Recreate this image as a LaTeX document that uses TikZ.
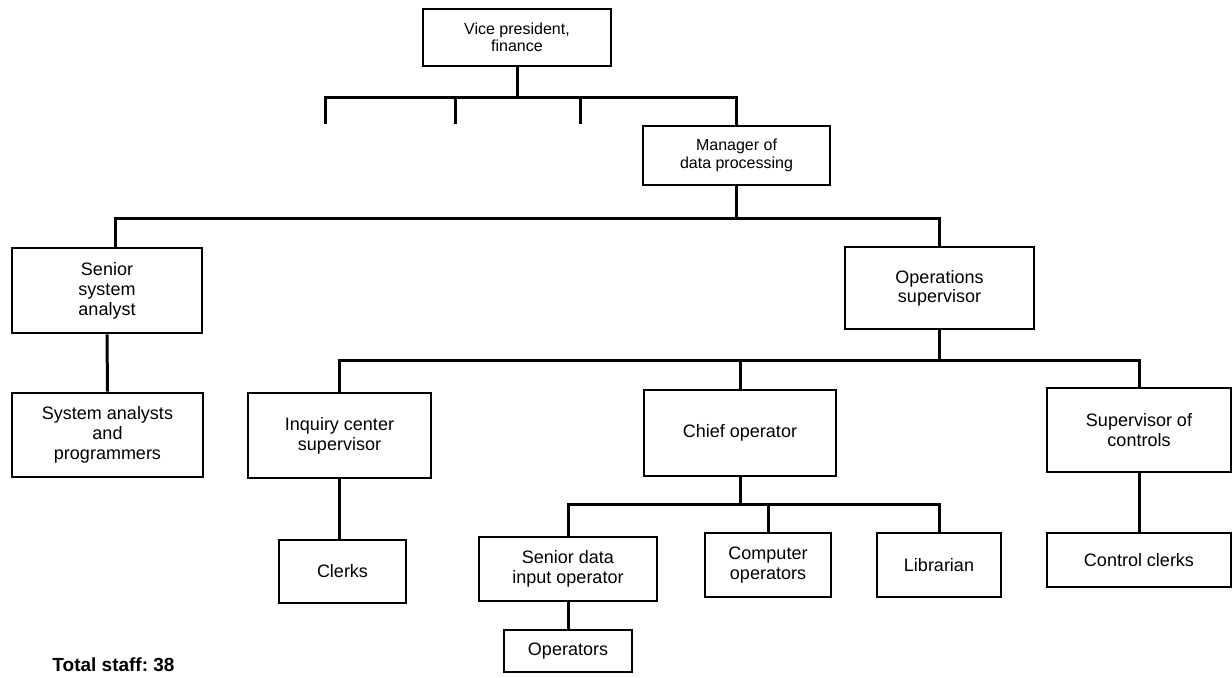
\documentclass[tikz,border=0pt]{standalone}
\usepackage{fontspec}
\setmainfont{Liberation Sans}
\begin{document}
\begin{tikzpicture}[x=0.5pt,y=-0.5pt,
  box/.style={draw, line width=1.3pt, rectangle, inner sep=0pt, align=center,
    font=\fontsize{9}{10}\selectfont},
  link/.style={line width=1.5pt}]
\useasboundingbox (0,0) rectangle (1232,677);

% Positions and sizes of the boxes
\node[box, minimum width=94pt, minimum height=28.5pt, font=\fontsize{8}{8.5}\selectfont]
  (vp) at (517,37.5) {Vice president,\\finance};
\node[box, minimum width=93.5pt, minimum height=29.5pt, font=\fontsize{8}{9}\selectfont]
  (mgr) at (736.5,155.5) {Manager of\\data processing};
\node[box, minimum width=95pt, minimum height=42.5pt]
  (ssa) at (107,290.5) {Senior\\system\\analyst};
\node[box, minimum width=95.5pt, minimum height=42pt]
  (sap) at (107.5,435) {System analysts\\and\\programmers};
\node[box, minimum width=94.5pt, minimum height=41pt, font=\fontsize{9}{8}\selectfont]
  (ops) at (939.5,288) {Operations\\supervisor};
\node[box, minimum width=91.5pt, minimum height=42.5pt]
  (inq) at (339.5,435.5) {Inquiry center\\supervisor};
\node[box, minimum width=96pt, minimum height=43pt]
  (chief) at (740,433) {Chief operator};
\node[box, minimum width=92pt, minimum height=42pt]
  (soc) at (1139,430) {Supervisor of\\controls};
\node[box, minimum width=63.5pt, minimum height=31.5pt]
  (clerks) at (342.5,571.5) {Clerks};
\node[box, minimum width=89pt, minimum height=32pt]
  (sdi) at (568,569) {Senior data\\input operator};
\node[box, minimum width=63pt, minimum height=32pt]
  (cop) at (768,565) {Computer\\operators};
\node[box, minimum width=62pt, minimum height=32pt]
  (lib) at (939,565) {Librarian};
\node[box, minimum width=64pt, minimum height=21pt]
  (opr) at (568,651) {Operators};
\node[box, minimum width=92pt, minimum height=27pt]
  (cc) at (1139,560) {Control clerks};

\node[font=\bfseries\fontsize{9.5}{10}\selectfont, inner sep=0pt]
  (total) at (113.5,665) {Total staff:\ 38};

% Junction levels of the tree
\coordinate (j1) at (518,97);
\coordinate (j2) at (738,218);
\coordinate (j3) at (940,360);
\coordinate (j4) at (740,504);
% Open branches under the vice president
\coordinate (s1) at (325,124);
\coordinate (s2) at (455,124);
\coordinate (s3) at (580,124);

% Vice president level
\draw[link] (vp.south) -- (vp.south |- j1);
\draw[link] (s1) |- (mgr.north |- j1) -- (mgr.north);
\draw[link] (s2) -- (s2 |- j1);
\draw[link] (s3) -- (s3 |- j1);

% Manager level
\draw[link] (mgr.south) -- (mgr.south |- j2);
\draw[link] ([xshift=4pt]ssa.north) |- (ops.north |- j2) -- (ops.north);
\draw[link] (ssa.south) -- (sap.north);

% Operations level
\draw[link] (ops.south) -- (ops.south |- j3);
\draw[link] (inq.north) |- (soc.north |- j3) -- (soc.north);
\draw[link] (chief.north) -- (chief.north |- j3);
\draw[link] (inq.south) -- (inq.south |- clerks.north);
\draw[link] (soc.south) -- (cc.north);

% Chief operator level
\draw[link] (chief.south) -- (chief.south |- j4);
\draw[link] (sdi.north) |- (lib.north |- j4) -- (lib.north);
\draw[link] (cop.north) -- (cop.north |- j4);
\draw[link] (sdi.south) -- (opr.north);
\end{tikzpicture}
\end{document}
